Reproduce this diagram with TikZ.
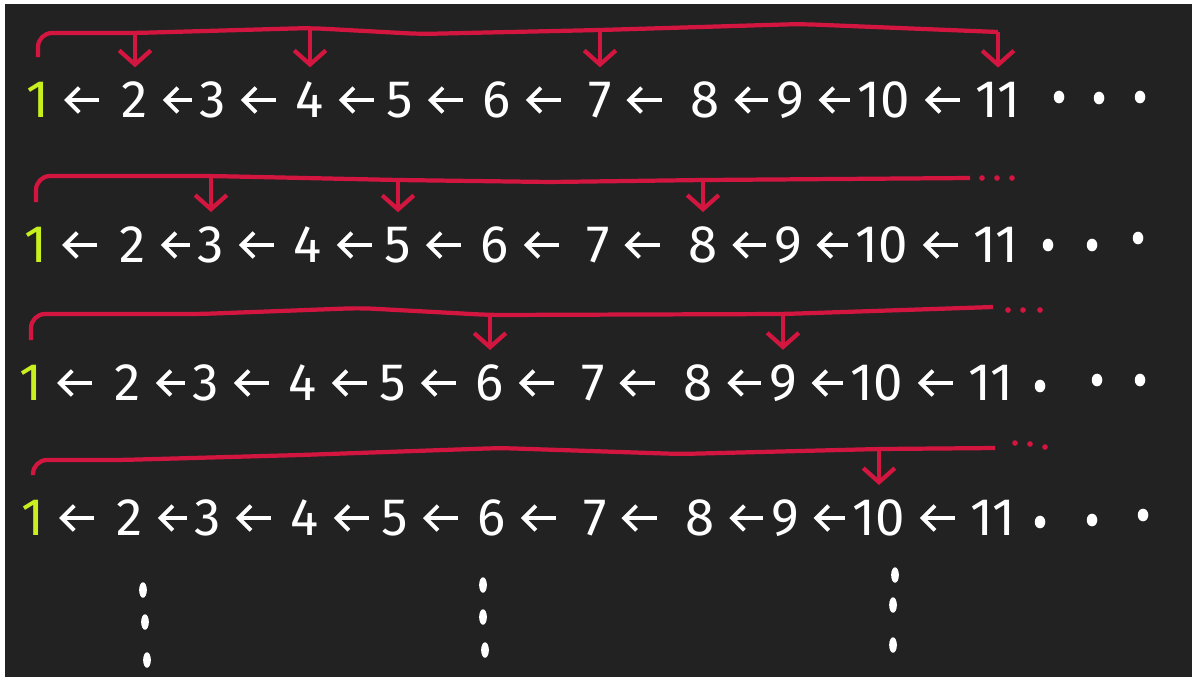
\documentclass[tikz,border=0pt]{standalone}
\usepackage{fontspec}
\setsansfont{Fira Sans}
\usepackage{tikz}
\usetikzlibrary{arrows.meta, calc}

\definecolor{board}{HTML}{232223}
\definecolor{chalk}{HTML}{FFFFFF}
\definecolor{chalkgreen}{HTML}{C8F01E}
\definecolor{ink}{HTML}{D3163F}

\begin{document}
\begin{tikzpicture}[x=0.01cm, y=-0.01cm,
  num/.style={text=chalk, font=\sffamily\fontsize{15}{17}\selectfont, inner sep=1pt},
  first/.style={num, text=chalkgreen},
  lft/.style={-{Straight Barb[length=3.5pt,width=7pt]}, chalk, line width=1.1pt, shorten >=3pt},
  brk/.style={ink, line width=1.2pt, rounded corners=4},
  drop/.style={ink, line width=1.2pt, -{Straight Barb[length=4pt,width=9pt]}, shorten >=3pt},
  inkdot/.style={ink},
  ]
% board
\fill[white] (0,0) rectangle (1192,681);
\fill[board] (5,4) rectangle (1192,677);

% four rows 1 <- 2 <- ... <- 11
\foreach \r/\y/\dx in {1/100/0, 2/245/-2, 3/383/-7, 4/518/-5} {
  \node[first] (n\r-1) at ({38+\dx},\y) {1};
  \foreach \i/\x in {2/135, 3/213, 4/310, 5/400, 6/497, 7/600, 8/705, 9/790, 10/884, 11/998}
    \node[num] (n\r-\i) at ({\x+\dx},\y) {\i};
  \foreach \i [evaluate=\i as \j using int(\i-1)] in {2,...,11}
    \draw[lft] let \p1=(n\r-\i.west), \p2=(n\r-\j.east), \n1={max(\x1-\x2-13pt,1pt)} in
      [shorten <=\n1] (\p1) -- (\p2);
}

% trailing dots
\foreach \x/\y in {1059/97, 1099/98, 1140/97, 1048/245, 1092/245, 1138/238,
                   1040/386, 1097/380, 1140/380, 1040/522, 1092/520, 1143/515}
  \fill[chalk] (\x,\y) ellipse [x radius=1.5pt, y radius=1.8pt];

% row 1: jumps 1 -> 2 -> 4 -> 7 -> 11
\draw[brk] ([yshift=6pt]n1-1.north) |- (n1-2 |- 0,33) coordinate (j1-2)
  -- (n1-4 |- 0,28) coordinate (j1-4) -- (420,34) -- (n1-7 |- 0,30) coordinate (j1-7)
  -- (800,24) -- (n1-11 |- 0,32) coordinate (j1-11);
\foreach \k in {2,4,7,11}
  \draw[drop] (j1-\k) -- (n1-\k.north);

% row 2: jumps 1 -> 3 -> 5 -> 8 ...
\draw[brk] ([yshift=6pt]n2-1.north) |- (n2-3 |- 0,176) coordinate (j2-3)
  -- (n2-5 |- 0,180) coordinate (j2-5) -- (550,182) -- (n2-8 |- 0,180) coordinate (j2-8)
  -- (970,178) coordinate (e2);
\foreach \k in {3,5,8}
  \draw[drop] (j2-\k) -- (n2-\k.north);
\foreach \s in {12,27,42}
  \fill[inkdot] (e2) ++(\s,0) circle (0.8pt);

% row 3: jumps 1 -> 6 -> 9 ...
\draw[brk] ([yshift=6pt]n3-1.north) |- (200,314) -- (360,308)
  -- (n3-6 |- 0,315) coordinate (j3-6) -- (n3-9 |- 0,314) coordinate (j3-9)
  -- (993,307) coordinate (e3);
\foreach \k in {6,9}
  \draw[drop] (j3-\k) -- (n3-\k.north);
\foreach \s in {15,30,47}
  \fill[inkdot] (e3) ++(\s,3) circle (0.8pt);

% row 4: jump 1 -> 10 ...
\draw[brk] ([yshift=6pt]n4-1.north) |- (120,460) -- (300,455) -- (500,448)
  -- (680,454) -- (n4-10 |- 0,449) coordinate (j4-10) -- (995,448) coordinate (e4);
\draw[drop] (j4-10) -- (n4-10.north);
\foreach \s/\t in {20/-5, 35/-4, 50/-1}
  \fill[inkdot] (e4) ++(\s,\t) circle (0.8pt);

% vertical dots below
\foreach \x/\y in {143/590, 145/622, 147/660, 483/585, 483/617, 485/650,
                   895/575, 893/605, 893/645}
  \fill[chalk] (\x,\y) ellipse [x radius=1.1pt, y radius=2.2pt];
\end{tikzpicture}
\end{document}
